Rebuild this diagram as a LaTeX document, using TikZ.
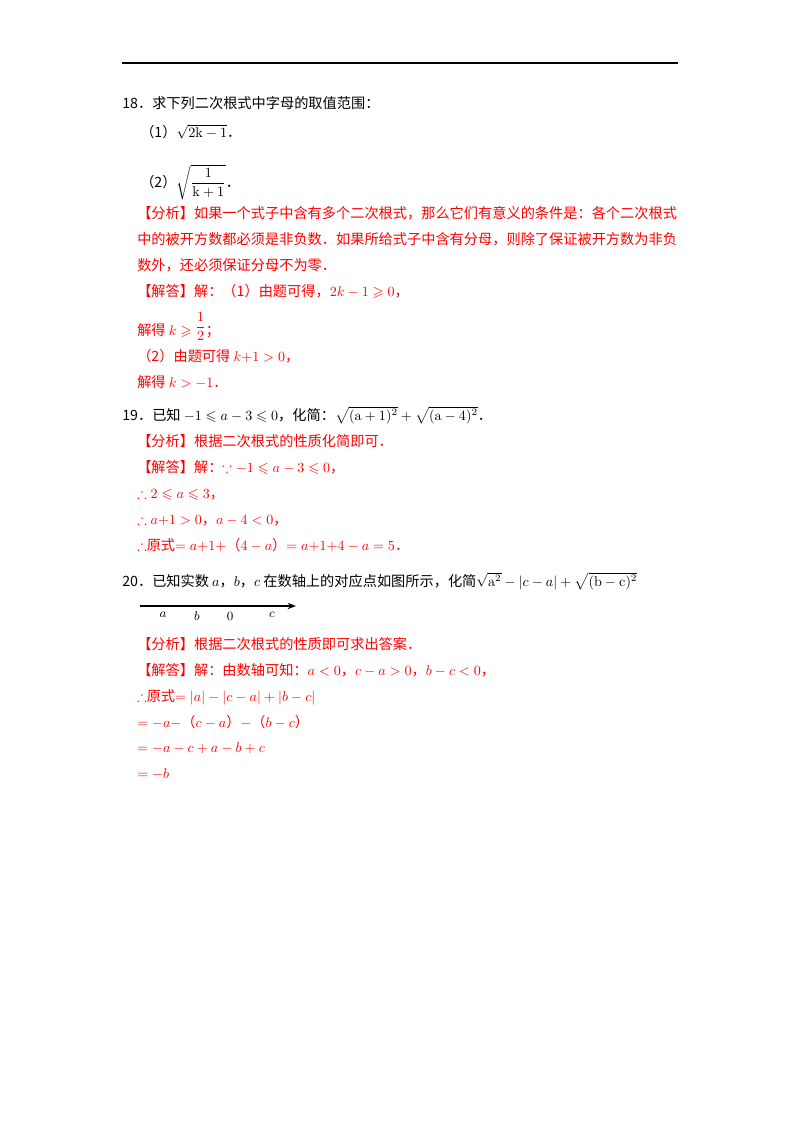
\documentclass[tikz,border=0pt]{standalone}
\usepackage{amsmath,amssymb}
\usepackage{fontspec}
\newfontfamily\cjk{Noto Sans CJK SC}
\usepackage{xcolor}
\usetikzlibrary{arrows.meta}

\begin{document}
\begin{tikzpicture}[
    x=0.025cm, y=-0.025cm,
    txt/.style={anchor=base west, inner sep=0pt, font=\cjk\fontsize{10.1}{12}\selectfont},
    ans/.style={txt, text=red},
    axis/.style={-{Stealth[length=6pt]}, line width=0.9pt},
    tick/.style={circle, fill=black, inner sep=0.6pt},
    lab/.style={font=\fontsize{9}{10}\selectfont, inner sep=0pt}
]
    \useasboundingbox (0,0) rectangle (800,1132);
    % header rule
    \coordinate (ruleL) at (122,63);
    \coordinate (ruleR) at (678,63);
    \draw[line width=0.8pt] (ruleL) -- (ruleR);

    % Problem 18
    \node[txt] (q18) at (122,108) {18．求下列二次根式中字母的取值范围：};
    \node[txt] (q18a) at (140,137) {（1）$\sqrt{\mathrm{2k-1}}$．};
    \node[txt] (q18b) at (140,187) {（2）$\sqrt{\dfrac{1}{\mathrm{k+1}}}$．};
    \node[ans] (a18f1) at (137,218) {【分析】如果一个式子中含有多个二次根式，那么它们有意义的条件是：各个二次根式};
    \node[ans] (a18f2) at (137,244) {中的被开方数都必须是非负数．如果所给式子中含有分母，则除了保证被开方数为非负};
    \node[ans] (a18f3) at (137,270) {数外，还必须保证分母不为零．};
    \node[ans] (a18j1) at (137,296) {【解答】解：（1）由题可得，$2k-1\geqslant0$，};
    \node[ans] (a18j2) at (137,335) {解得 $k\geqslant\raisebox{3pt}{$\dfrac{1}{2}$}$；};
    \node[ans] (a18j3) at (137,361) {（2）由题可得 $k{+}1>0$，};
    \node[ans] (a18j4) at (137,387) {解得 $k>-1$．};

    % Problem 19
    \node[txt] (q19) at (122,420) {19．已知 $-1\leqslant a-3\leqslant0$，化简：$\sqrt{(\mathrm{a+1})^2}+\sqrt{(\mathrm{a-4})^2}$．};
    \node[ans] (a19f) at (137,446) {【分析】根据二次根式的性质化简即可．};
    \node[ans] (a19j1) at (137,472) {【解答】解：$\because -1\leqslant a-3\leqslant0$，};
    \node[ans] (a19j2) at (137,498) {$\therefore 2\leqslant a\leqslant3$，};
    \node[ans] (a19j3) at (137,524) {$\therefore a{+}1>0$，$a-4<0$，};
    \node[ans] (a19j4) at (137,550) {$\therefore$原式$=a{+}1{+}$（$4-a$）$=a{+}1{+}4-a=5$．};

    % Problem 20
    \node[txt] (q20) at (122,586) {20．已知实数 $a$，$b$，$c$ 在数轴上的对应点如图所示，化简$\sqrt{\mathrm{a}^2}-|c-a|+\sqrt{(\mathrm{b-c})^2}$};
    \coordinate (axL) at (140,606);
    \coordinate (axR) at (296,606);
    \draw[axis] (axL) -- (axR);
    \node[tick] (pa) at (163,606) {};
    \node[tick] (pb) at (197,606) {};
    \node[tick] (p0) at (230,606) {};
    \node[tick] (pc) at (272,606) {};
    \node[lab, below=4pt] at (pa) {$a$};
    \node[lab, below=4pt] at (pb) {$b$};
    \node[lab, below=4pt] at (p0) {$0$};
    \node[lab, below=4pt] at (pc) {$c$};
    \node[ans] (a20f) at (137,649) {【分析】根据二次根式的性质即可求出答案．};
    \node[ans] (a20j1) at (137,675) {【解答】解：由数轴可知：$a<0$，$c-a>0$，$b-c<0$，};
    \node[ans] (a20j2) at (137,701) {$\therefore$原式$=|a|-|c-a|+|b-c|$};
    \node[ans] (a20j3) at (137,727) {$=-a-$（$c-a$）$-$（$b-c$）};
    \node[ans] (a20j4) at (137,752) {$=-a-c+a-b+c$};
    \node[ans] (a20j5) at (137,778) {$=-b$};
\end{tikzpicture}
\end{document}
